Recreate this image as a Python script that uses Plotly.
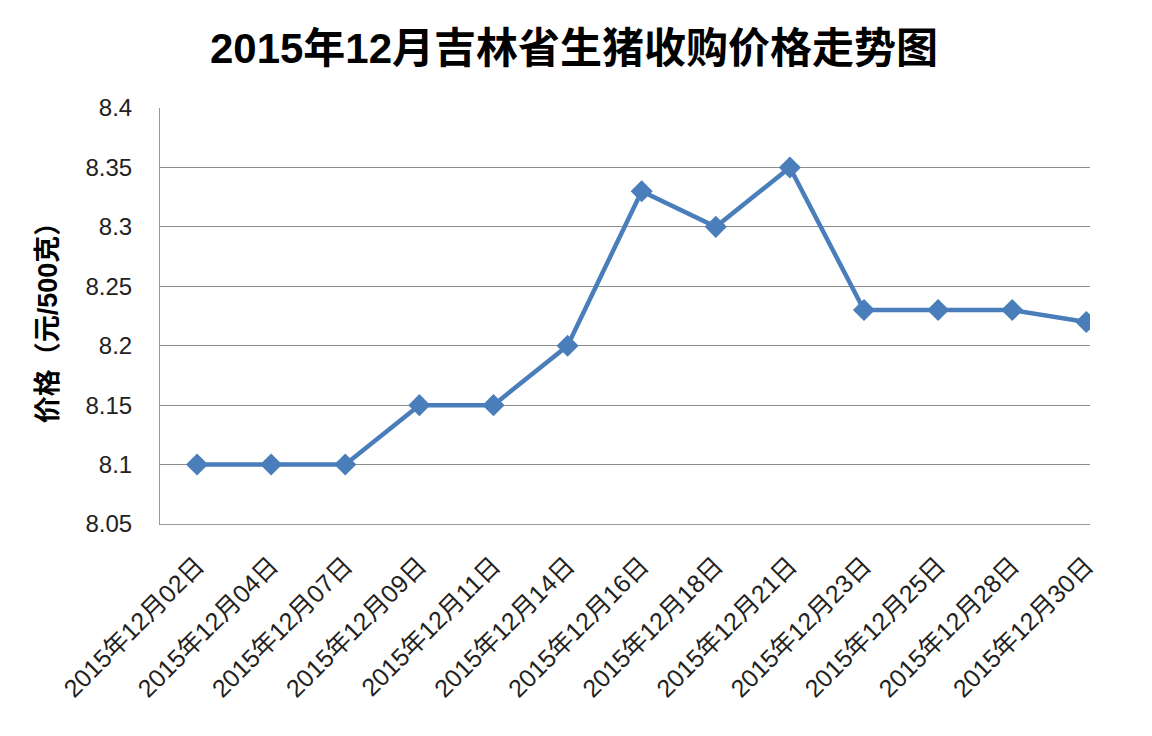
import plotly.graph_objects as go

dates = ["2015年12月02日", "2015年12月04日", "2015年12月07日", "2015年12月09日",
         "2015年12月11日", "2015年12月14日", "2015年12月16日", "2015年12月18日",
         "2015年12月21日", "2015年12月23日", "2015年12月25日", "2015年12月28日",
         "2015年12月30日"]
prices = [8.10, 8.10, 8.10, 8.15, 8.15, 8.20, 8.33, 8.30, 8.35, 8.23, 8.23, 8.23, 8.22]
y_ticks = [8.05, 8.1, 8.15, 8.2, 8.25, 8.3, 8.35, 8.4]
y_tick_text = ["8.05", "8.1", "8.15", "8.2", "8.25", "8.3", "8.35", "8.4"]

font_family = "Liberation Sans, Noto Sans CJK SC, sans-serif"

fig = go.Figure()
fig.add_trace(go.Scatter(
    x=list(range(len(dates))), y=prices,
    mode="lines+markers",
    line=dict(color="#4A7EBB", width=4.5),
    marker=dict(symbol="diamond", size=17, color="#4A7EBB"),
    hoverinfo="x+y",
))

fig.update_layout(
    width=1152, height=736,
    paper_bgcolor="white", plot_bgcolor="white",
    margin=dict(l=152, r=70, t=100, b=220),
    showlegend=False,
    title=dict(text="<b>2015年12月吉林省生猪收购价格走势图</b>",
               x=566 / 1152, xref="container", xanchor="center",
               y=1 - 40 / 736, yref="container", yanchor="middle",
               font=dict(family=font_family, size=42, color="black")),
    font=dict(family=font_family, color="#222"),
)
fig.update_xaxes(
    range=[-0.5, 12.05],
    tickmode="array", tickvals=list(range(len(dates))), ticktext=dates,
    tickangle=-45, tickfont=dict(size=25, color="#222"),
    showgrid=False, showline=True, linecolor="#999", linewidth=1,
    ticks="", zeroline=False, ticklabelstandoff=16,
)
fig.update_yaxes(
    range=[8.05, 8.4],
    tickmode="array", tickvals=y_ticks, ticktext=y_tick_text,
    tickfont=dict(size=24, color="#222"),
    showgrid=True, gridcolor="#8c8c8c", gridwidth=1,
    showline=True, linecolor="#999", linewidth=1,
    ticks="", zeroline=False, ticklabelstandoff=22,
    title=dict(text="<b>价格（元/500克）</b>", font=dict(size=27, color="black"), standoff=20),
)

fig.write_html("out.html")
